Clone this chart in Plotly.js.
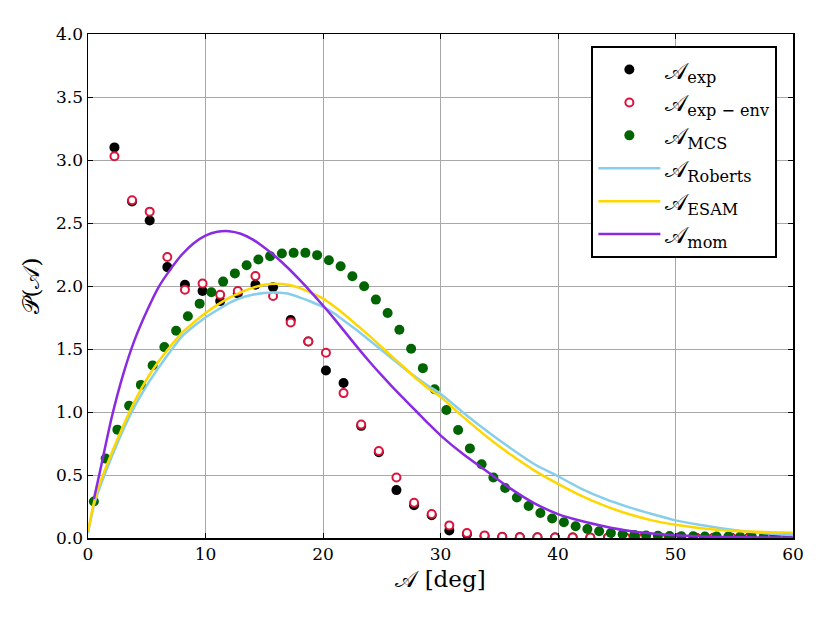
<!DOCTYPE html>
<html>
<head>
<meta charset="utf-8">
<script src="https://cdn.plot.ly/plotly-3.0.1.min.js"></script>
<style>html,body{margin:0;padding:0;background:#fff;}#chart{width:830px;height:623px;}</style>
</head>
<body>
<div id="chart"></div>
<script>
// Experimental bins (deg)
const expX = [2.25,3.75,5.25,6.75,8.25,9.75,11.25,12.75,14.25,15.75,17.25,18.75,20.25,21.75,23.25,24.75,26.25,27.75,29.25,30.75,32.25,33.75,35.25,36.75,38.25,39.75,41.25,42.75,44.25,45.75,47.25,48.75,50.25,51.75,53.25,54.75,56.25,57.75,59.25];
const expY = [3.10,2.67,2.52,2.15,2.01,1.96,1.88,1.94,2.01,1.99,1.73,1.56,1.33,1.23,0.89,0.68,0.38,0.26,0.18,0.06,0.03,0.015,0.008,0.005,0.004,0.003,0.003,0.002,0.002,0.002,0.001,0.001,0.001,0.001,0.001,0.001,0.001,0.001,0.001];
const envY = [3.03,2.68,2.59,2.23,1.97,2.02,1.93,1.96,2.08,1.92,1.71,1.56,1.47,1.15,0.90,0.69,0.48,0.28,0.19,0.10,0.04,0.02,0.01,0.006,0.005,0.004,0.003,0.003,0.002,0.002,0.002,0.001,0.001,0.001,0.001,0.001,0.001,0.001,0.001];
// Monte Carlo simulation
const mcsX = [0.5,1.5,2.5,3.5,4.5,5.5,6.5,7.5,8.5,9.5,10.5,11.5,12.5,13.5,14.5,15.5,16.5,17.5,18.5,19.5,20.5,21.5,22.5,23.5,24.5,25.5,26.5,27.5,28.5,29.5,30.5,31.5,32.5,33.5,34.5,35.5,36.5,37.5,38.5,39.5,40.5,41.5,42.5,43.5,44.5,45.5,46.5,47.5,48.5,49.5,50.5,51.5,52.5,53.5,54.5,55.5,56.5,57.5,58.5,59.5];
const mcsY = [0.29,0.63,0.86,1.05,1.215,1.37,1.515,1.645,1.76,1.86,1.95,2.035,2.10,2.165,2.21,2.237,2.258,2.263,2.263,2.245,2.205,2.157,2.077,1.998,1.892,1.786,1.653,1.502,1.348,1.181,1.016,0.857,0.711,0.585,0.48,0.397,0.321,0.254,0.198,0.155,0.125,0.093,0.072,0.053,0.04,0.03,0.024,0.02,0.017,0.015,0.014,0.013,0.012,0.011,0.011,0.01,0.01,0.009,0.009,0.008];
// Model curves
const curveX = [0,0.5,1,2,3,4,5,6,7,8,9,10,11,12,13,14,15,16,17,18,19,20,21,22,23,24,25,26,27,28,29,30,32,34,36,38,40,42,44,46,48,50,52,54,56,58,60];
const robertsY = [0.04,0.26,0.40,0.64,0.86,1.05,1.21,1.35,1.48,1.60,1.68,1.75,1.81,1.865,1.905,1.93,1.945,1.948,1.94,1.91,1.875,1.835,1.78,1.71,1.64,1.565,1.49,1.415,1.34,1.27,1.205,1.145,0.99,0.845,0.71,0.585,0.49,0.39,0.31,0.245,0.19,0.14,0.105,0.075,0.052,0.035,0.022];
const esamY = [0.05,0.28,0.43,0.67,0.89,1.09,1.26,1.40,1.52,1.63,1.71,1.785,1.85,1.905,1.95,1.985,2.01,2.018,2.01,1.985,1.945,1.90,1.835,1.76,1.68,1.60,1.515,1.43,1.345,1.26,1.185,1.12,0.955,0.80,0.66,0.535,0.43,0.335,0.255,0.19,0.14,0.105,0.08,0.062,0.052,0.046,0.042];
const momX = [0.5,1,2,3,4,5,6,7,8,9,10,11,12,13,14,15,16,17,18,19,20,21,22,23,24,25,26,27,28,29,30,32,34,36,38,40,42,44,46,48,50,52,54,56,58,60];
const momY = [0.31,0.52,0.95,1.30,1.58,1.80,1.99,2.13,2.25,2.34,2.40,2.43,2.435,2.415,2.37,2.305,2.23,2.145,2.05,1.95,1.845,1.735,1.62,1.505,1.395,1.29,1.19,1.095,1.0,0.905,0.815,0.66,0.525,0.39,0.275,0.19,0.135,0.092,0.057,0.035,0.021,0.013,0.008,0.005,0.004,0.003];

const A = '\u{1D49C}';
const P = '\u{1D4AB}';
const serif = 'DejaVu Serif';

const traces = [
  {x: expX, y: expY, type:'scatter', mode:'markers', name: A+'<sub>exp</sub>', legendgroup:'a',
   marker:{color:'black', size:10}},
  {x: expX, y: envY, type:'scatter', mode:'markers', name: A+'<sub>exp \u2212 env</sub>', legendgroup:'b',
   marker:{color:'white', size:8, line:{color:'#dc143c', width:2}}},
  {x: mcsX, y: mcsY, type:'scatter', mode:'markers', name: A+'<sub>MCS</sub>', legendgroup:'c',
   marker:{color:'#006400', size:10}},
  {x: curveX, y: robertsY, type:'scatter', mode:'lines', name: A+'<sub>Roberts</sub>', legendgroup:'d',
   line:{color:'#87ceeb', width:2.5, shape:'spline', smoothing:0.6}},
  {x: curveX, y: esamY, type:'scatter', mode:'lines', name: A+'<sub>ESAM</sub>', legendgroup:'e',
   line:{color:'#ffd700', width:2.5, shape:'spline', smoothing:0.6}},
  {x: momX, y: momY, type:'scatter', mode:'lines', name: A+'<sub>mom</sub>', legendgroup:'f',
   line:{color:'#8a2be2', width:2.5, shape:'spline', smoothing:0.6}}
];

const axisCommon = {
  showline:true, linecolor:'black', linewidth:1.5, mirror:'ticks',
  ticks:'inside', ticklen:5, tickcolor:'black', tickwidth:1,
  showgrid:true, gridcolor:'#a8a8a8', gridwidth:1, zeroline:false,
  tickfont:{family:serif, size:17, color:'black'}
};

const layout = {
  width:830, height:623,
  margin:{l:88, r:37, t:34, b:85},
  paper_bgcolor:'white', plot_bgcolor:'white',
  font:{family:serif, color:'black'},
  xaxis: Object.assign({}, axisCommon, {
    range:[0,60], dtick:10, tick0:0,
    title:{text: A+' [deg]', font:{family:serif, size:23, color:'black'}, standoff:8}
  }),
  yaxis: Object.assign({}, axisCommon, {
    range:[0,4], dtick:0.5, tick0:0, tickformat:'.1f',
    title:{text: P+'('+A+')', font:{family:serif, size:23, color:'black'}, standoff:10}
  }),
  legend:{
    x:0.714, y:0.976, xanchor:'left', yanchor:'top',
    bgcolor:'white', bordercolor:'black', borderwidth:2,
    font:{family:serif, size:23, color:'black'},
    tracegroupgap:17, traceorder:'normal',
    itemwidth:62
  },
  showlegend:true
};

Plotly.newPlot('chart', traces, layout, {displayModeBar:false, staticPlot:true});
</script>
</body>
</html>
